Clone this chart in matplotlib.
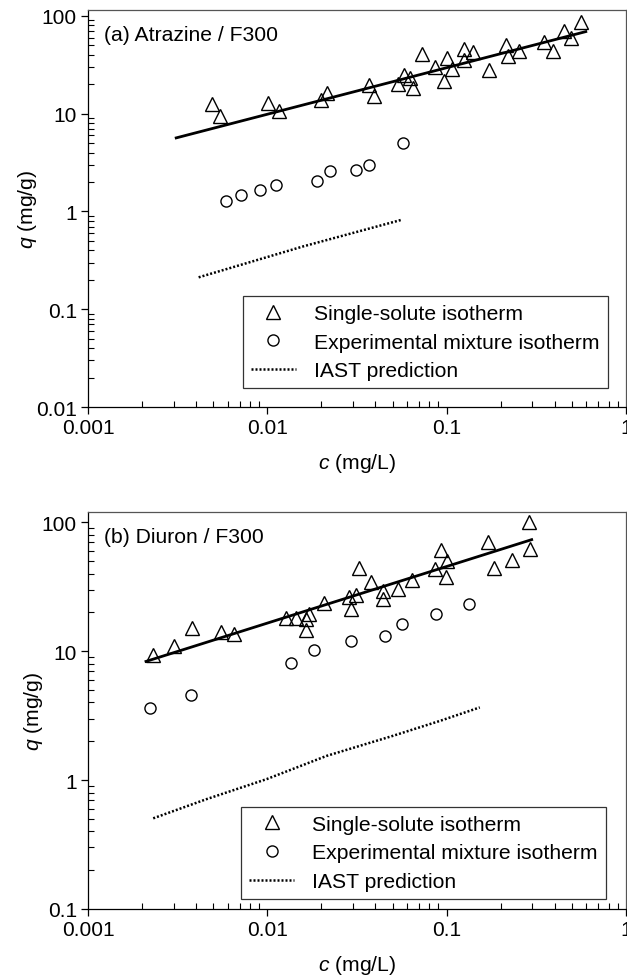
import matplotlib
matplotlib.use("Agg")
import matplotlib.pyplot as plt
from matplotlib.lines import Line2D

plt.rcParams['font.family'] = ['Liberation Sans', 'DejaVu Sans']
plt.rcParams['mathtext.fontset'] = 'custom'
plt.rcParams['mathtext.rm'] = 'Liberation Sans'
plt.rcParams['mathtext.it'] = 'Liberation Sans:italic'

# ---------------- Panel (a) Atrazine / F300 ----------------
a_single_c = [0.00491, 0.00542, 0.01005, 0.0116, 0.0199, 0.0215, 0.0369, 0.0394,
              0.0537, 0.0577, 0.0623, 0.0651, 0.0728, 0.0864, 0.0966, 0.1005,
              0.1067, 0.1247, 0.1247, 0.141, 0.172, 0.215, 0.221, 0.253,
              0.349, 0.394, 0.453, 0.496, 0.560]
a_single_q = [12.6, 9.55, 12.9, 10.6, 13.9, 16.3, 19.7, 15.3,
              20.1, 24.9, 23.0, 18.2, 40.8, 29.9, 21.8, 37.2,
              28.7, 45.9, 35.5, 43.1, 28.2, 50.5, 39.3, 44.2,
              53.8, 44.2, 69.7, 59.2, 87.5]
a_fit_c = [0.00305, 0.607]
a_fit_q = [5.61, 69.7]
a_mix_c = [0.00587, 0.00709, 0.00911, 0.0112, 0.019, 0.0224, 0.0311, 0.0369, 0.0569]
a_mix_q = [1.29, 1.47, 1.67, 1.88, 2.07, 2.62, 2.66, 3.01, 5.02]
a_iast_c = [0.00414, 0.0159, 0.0557]
a_iast_q = [0.212, 0.44, 0.819]

# ---------------- Panel (b) Diuron / F300 ----------------
b_single_c = [0.00231, 0.0030, 0.00382, 0.00554, 0.00648, 0.0127, 0.0144, 0.0165,
              0.0170, 0.0165, 0.0206, 0.0284, 0.0291, 0.0311, 0.0325, 0.038,
              0.0442, 0.0442, 0.0537, 0.0643, 0.0864, 0.0924, 0.1007, 0.0989,
              0.169, 0.184, 0.230, 0.288, 0.292]
b_single_q = [9.36, 11.0, 15.0, 14.1, 13.6, 18.2, 18.0, 17.7,
              19.4, 14.6, 23.8, 26.5, 21.2, 27.2, 44.5, 34.4,
              29.3, 25.6, 30.3, 35.7, 43.3, 60.7, 49.6, 37.7,
              69.7, 44.5, 51.1, 99.5, 61.8]
b_fit_c = [0.00207, 0.303]
b_fit_q = [8.26, 73.8]
b_mix_c = [0.00221, 0.00374, 0.0136, 0.0182, 0.0292, 0.0453, 0.0562, 0.0872, 0.133]
b_mix_q = [3.61, 4.58, 8.07, 10.2, 11.9, 13.1, 16.3, 19.4, 23.1]
b_iast_c = [0.00231, 0.00459, 0.00993, 0.0214, 0.0505, 0.0919, 0.153]
b_iast_q = [0.505, 0.712, 1.018, 1.54, 2.21, 2.88, 3.66]

panel_titles = ["(a) Atrazine / F300", "(b) Diuron / F300"]
legend_labels = ["Single-solute isotherm", "Experimental mixture isotherm", "IAST prediction"]
x_ticks = [0.001, 0.01, 0.1, 1]
x_ticklabels = ["0.001", "0.01", "0.1", "1"]
a_y_ticks = [0.01, 0.1, 1, 10, 100]
a_y_ticklabels = ["0.01", "0.1", "1", "10", "100"]
b_y_ticks = [0.1, 1, 10, 100]
b_y_ticklabels = ["0.1", "1", "10", "100"]

W, H = 627, 979
fig = plt.figure(figsize=(W / 100, H / 100), dpi=100)

FS = 15.2
TFS = 15.0
ax_left = 88 / W
ax_w = (626 - 88) / W
ax_h = (408 - 11) / H
ax1 = fig.add_axes([ax_left, 1 - 408 / H, ax_w, ax_h])
ax2 = fig.add_axes([ax_left, 1 - 910 / H, ax_w, (910 - 513) / H])

panels = [
    (ax1, a_single_c, a_single_q, a_fit_c, a_fit_q, a_mix_c, a_mix_q, a_iast_c, a_iast_q,
     (0.01, 115), a_y_ticks, a_y_ticklabels, panel_titles[0], (0.9658, 0.047)),
    (ax2, b_single_c, b_single_q, b_fit_c, b_fit_q, b_mix_c, b_mix_q, b_iast_c, b_iast_q,
     (0.1, 120), b_y_ticks, b_y_ticklabels, panel_titles[1], (0.9625, 0.025)),
]

for (ax, sc, sq, fc, fq, mc, mq, ic, iq, ylim, yt, ytl, title, anchor) in panels:
    ax.set_xscale('log')
    ax.set_yscale('log')
    ax.plot(sc, sq, linestyle='none', marker='^', ms=9.5, mfc='none', mec='black', mew=1.0)
    ax.plot(fc, fq, color='black', lw=2.0, solid_capstyle='butt')
    ax.plot(mc, mq, linestyle='none', marker='o', ms=8, mfc='none', mec='black', mew=1.0)
    ax.plot(ic, iq, color='black', lw=1.8, linestyle=(0, (0.8, 0.8)))
    ax.set_xlim(0.001, 1)
    ax.set_ylim(*ylim)
    ax.set_xticks(x_ticks)
    ax.set_xticklabels(x_ticklabels)
    ax.set_yticks(yt)
    ax.set_yticklabels(ytl)
    ax.tick_params(which='major', direction='out', length=5, width=0.9, labelsize=TFS, pad=3,
                   colors='black')
    ax.tick_params(which='minor', direction='in', length=4, width=0.8)
    for s in ['left', 'bottom']:
        ax.spines[s].set_color('black')
        ax.spines[s].set_linewidth(0.9)
    for s in ['top', 'right']:
        ax.spines[s].set_color('#555555')
        ax.spines[s].set_linewidth(0.9)
    ax.set_xlabel(r'$c$ (mg/L)', fontsize=FS, labelpad=10)
    ax.set_ylabel(r'$q$ (mg/g)', fontsize=FS, labelpad=-2.5)
    ax.text(0.03, 0.939, title, transform=ax.transAxes, fontsize=FS, va='center', ha='left')

    handles = [
        Line2D([], [], linestyle='none', marker='^', ms=9.5, mfc='none', mec='black', mew=1.0),
        Line2D([], [], linestyle='none', marker='o', ms=8, mfc='none', mec='black', mew=1.0),
        Line2D([], [], color='black', lw=1.8, linestyle=(0, (0.8, 0.8))),
    ]
    leg = ax.legend(handles, legend_labels, loc='lower right', bbox_to_anchor=anchor,
                    bbox_transform=ax.transAxes, borderaxespad=0, fontsize=FS,
                    frameon=True, fancybox=False, handlelength=2.16, handletextpad=0.85,
                    labelspacing=0.46, borderpad=0.38)
    leg.get_frame().set_edgecolor('black')
    leg.get_frame().set_linewidth(0.9)

fig.savefig('out.png', dpi=100)
